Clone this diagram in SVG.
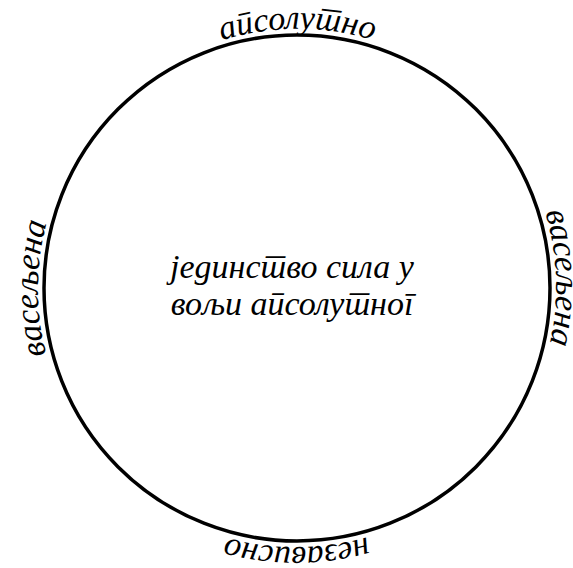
<svg xmlns="http://www.w3.org/2000/svg" xmlns:xlink="http://www.w3.org/1999/xlink" width="573" height="568" viewBox="0 0 573 568" xml:lang="sr" lang="sr">
<style>
  text { font-family: "Liberation Serif", "DejaVu Serif", serif; font-style: italic; fill: #000; font-size: 34px; }
  .arc { text-anchor: middle; }
  .ring { fill: none; stroke: #000; stroke-width: 3.5; }
</style>
<defs>
  <path id="orbit" d="M479.43,470.43 A258,258 0 1 1 114.57,105.57 A258,258 0 1 1 479.43,470.43" fill="none"/>
</defs>
<rect width="573" height="568" fill="#fff"/>
<g id="circle">
  <circle class="ring" cx="297" cy="288" r="253"/>
</g>
<g id="center-label">
  <text x="292" y="278" text-anchor="middle">јединство сила у</text>
  <text x="292" y="315" text-anchor="middle">вољи апсолутног</text>
</g>
<g id="top-label">
  <text class="arc"><textPath xlink:href="#orbit" href="#orbit" startOffset="62.5%">апсолутно</textPath></text>
</g>
<g id="left-label">
  <text class="arc"><textPath xlink:href="#orbit" href="#orbit" startOffset="37.5%">васељена</textPath></text>
</g>
<g id="right-label">
  <text class="arc"><textPath xlink:href="#orbit" href="#orbit" startOffset="86.9%">васељена</textPath></text>
</g>
<g id="bottom-label">
  <text class="arc"><textPath xlink:href="#orbit" href="#orbit" startOffset="12.5%">независно</textPath></text>
</g>
</svg>
